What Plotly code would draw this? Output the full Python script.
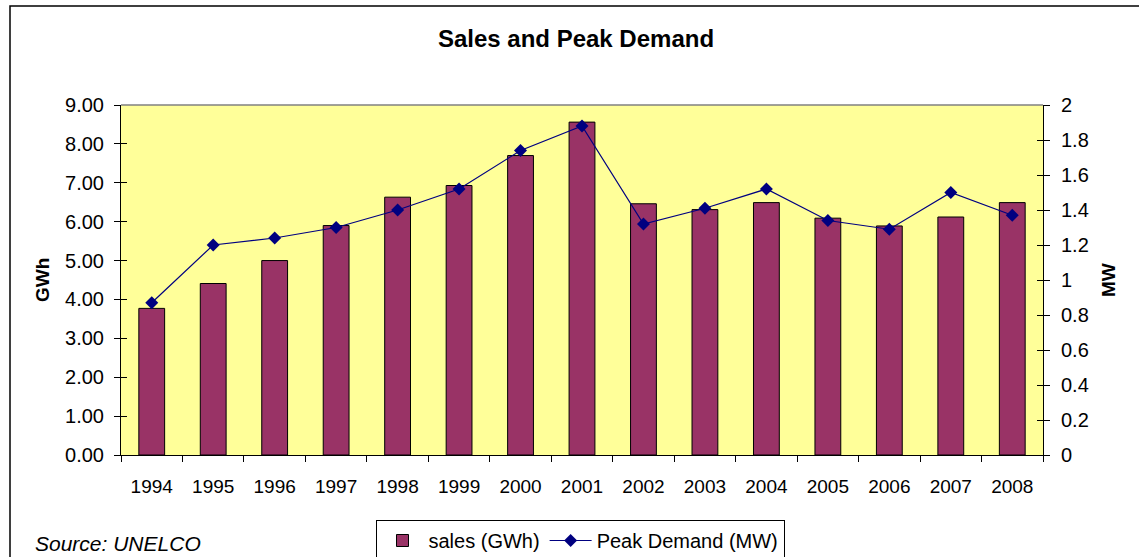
import plotly.graph_objects as go

years = ["1994", "1995", "1996", "1997", "1998", "1999", "2000", "2001",
         "2002", "2003", "2004", "2005", "2006", "2007", "2008"]
sales_gwh = [3.77, 4.41, 5.00, 5.90, 6.63, 6.93, 7.70, 8.56,
             6.46, 6.31, 6.49, 6.09, 5.89, 6.12, 6.49]
peak_mw = [0.87, 1.20, 1.24, 1.30, 1.40, 1.52, 1.74, 1.88,
           1.32, 1.41, 1.52, 1.34, 1.29, 1.50, 1.37]
left_ticks = [0, 1, 2, 3, 4, 5, 6, 7, 8, 9]
right_ticks = [0, 0.2, 0.4, 0.6, 0.8, 1, 1.2, 1.4, 1.6, 1.8, 2]

W, H = 1139, 557
L, R, T, B = 121, 1043, 105, 455
pw, ph = R - L, B - T

def px(x):
    return (x - L) / pw

def py(y):
    return (B - y) / ph

FONT = "Liberation Sans, Arial, sans-serif"

fig = go.Figure()
fig.add_trace(go.Bar(
    x=years, y=sales_gwh, name="sales (GWh)",
    marker=dict(color="#993366", line=dict(color="black", width=1)),
    width=0.42, yaxis="y",
))
fig.add_trace(go.Scatter(
    x=years, y=peak_mw, name="Peak Demand (MW)", mode="lines+markers",
    line=dict(color="#000080", width=1.2),
    marker=dict(symbol="diamond", size=10, color="#000080"),
    yaxis="y2",
))
# helper traces for inside tick marks (crossing ticks)
fig.add_trace(go.Scatter(x=[], y=[], yaxis="y3", showlegend=False, hoverinfo="skip"))
fig.add_trace(go.Scatter(x=[], y=[], yaxis="y4", showlegend=False, hoverinfo="skip"))

tickfont = dict(family=FONT, size=19, color="black")
ytickfont = dict(family=FONT, size=20, color="black")

fig.update_layout(
    width=W, height=H,
    margin=dict(l=L, r=W - R, t=T, b=H - B, autoexpand=False),
    paper_bgcolor="white",
    plot_bgcolor="#FFFF99",
    font=dict(family=FONT, color="black"),
    showlegend=True,
    title=dict(text="<b>Sales and Peak Demand</b>", x=px(576), xref="paper",
               xanchor="center", y=1 - 39 / H, yanchor="middle",
               font=dict(family=FONT, size=24, color="black")),
    xaxis=dict(type="category", categoryorder="array", categoryarray=years,
               range=[-0.5, len(years) - 0.5],
               showline=True, linecolor="black", linewidth=1,
               ticks="outside", ticklen=6, tickcolor="black", tickson="boundaries",
               tickfont=tickfont, showgrid=False, zeroline=False,
               ticklabelstandoff=14),
    yaxis=dict(range=[0, 9], tickvals=left_ticks,
               ticktext=[f"{v:.2f}" for v in left_ticks],
               showline=True, linecolor="black", linewidth=1,
               ticks="outside", ticklen=6, tickcolor="black",
               tickfont=ytickfont, showgrid=False, zeroline=False,
               ticklabelstandoff=6),
    yaxis2=dict(range=[0, 2], tickvals=right_ticks,
                ticktext=[f"{v:g}" for v in right_ticks],
                overlaying="y", side="right",
                showline=True, linecolor="black", linewidth=1,
                ticks="outside", ticklen=6, tickcolor="black",
                tickfont=ytickfont, showgrid=False, zeroline=False,
                ticklabelstandoff=7),
    yaxis3=dict(range=[0, 9], tickvals=left_ticks, overlaying="y", side="left",
                ticks="inside", ticklen=6, tickcolor="black",
                showticklabels=False, showgrid=False, zeroline=False, showline=False),
    yaxis4=dict(range=[0, 2], tickvals=right_ticks, overlaying="y", side="right",
                ticks="inside", ticklen=6, tickcolor="black",
                showticklabels=False, showgrid=False, zeroline=False, showline=False),
    legend=dict(orientation="h", x=px(580), y=1 - 520 / H, yref="container",
                xanchor="center", yanchor="top",
                bordercolor="black", borderwidth=1, bgcolor="white",
                font=dict(family=FONT, size=20, color="black"),
                itemwidth=42, tracegroupgap=0),
    annotations=[
        dict(text="<b>GWh</b>", x=px(42), y=py(280), xref="paper", yref="paper",
             textangle=-90, showarrow=False, xanchor="center", yanchor="middle",
             font=dict(family=FONT, size=19, color="black")),
        dict(text="<b>MW</b>", x=px(1108), y=py(280), xref="paper", yref="paper",
             textangle=-90, showarrow=False, xanchor="center", yanchor="middle",
             font=dict(family=FONT, size=19, color="black")),
        dict(text="<i>Source: UNELCO</i>", x=px(33), y=py(543), xref="paper", yref="paper",
             showarrow=False, xanchor="left", yanchor="middle",
             font=dict(family=FONT, size=21, color="black")),
    ],
    shapes=[
        # outer chart border
        dict(type="rect", xref="paper", yref="paper",
             x0=px(10), x1=px(1160), y0=py(600), y1=py(6),
             line=dict(color="black", width=1.5), fillcolor="rgba(0,0,0,0)", layer="below"),
        # gray top border of plot area
        dict(type="line", xref="paper", yref="paper", x0=0, x1=1, y0=1, y1=1,
             line=dict(color="#808080", width=1.5)),
    ],
)

fig.write_html("out.html", config={"displayModeBar": False},
               post_script="document.body.style.margin='0';document.body.style.overflow='hidden';")
